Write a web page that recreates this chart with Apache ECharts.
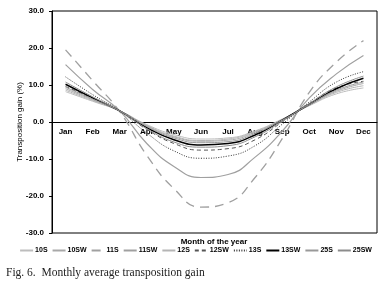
<!DOCTYPE html>
<html>
<head>
<meta charset="utf-8">
<script src="https://cdn.jsdelivr.net/npm/echarts@6/dist/echarts.min.js"></script>
<style>
  html, body { margin: 0; padding: 0; background: #fff; }
  #chart { width: 391px; height: 299px; }
</style>
</head>
<body>
<div id="chart"></div>
<script>
// months on the x axis
const months = ['Jan', 'Feb', 'Mar', 'Apr', 'May', 'Jun', 'Jul', 'Aug', 'Sep', 'Oct', 'Nov', 'Dec']

// monthly transposition gain (%)
const s10S   = [8.2, 5.6, 3.0, -0.7, -3.4, -4.6, -4.3, -2.4, 0.8, 4.4, 7.6, 9.2]
const s10SW  = [9.0, 6.0, 3.0, -1.0, -4.0, -5.2, -4.9, -2.8, 0.6, 4.6, 8.3, 10.4]
const s11S   = [19.5, 11.2, 2.8, -9.0, -18.0, -23.0, -21.8, -15.0, -4.5, 8.0, 16.2, 22.0]
const s11SW  = [15.5, 8.8, 3.0, -5.8, -12.0, -15.0, -14.2, -9.5, -2.5, 6.5, 13.0, 18.0]
const s12S   = [8.6, 5.8, 3.0, -0.9, -3.8, -5.0, -4.6, -2.6, 0.7, 4.5, 8.0, 9.8]
const s12SW  = [9.6, 6.4, 3.0, -2.0, -5.8, -7.6, -7.2, -4.8, 0.0, 5.0, 9.2, 11.0]
const s13S   = [12.2, 7.4, 3.0, -3.0, -7.8, -9.8, -9.2, -6.4, -0.6, 5.4, 10.8, 13.6]
const s13SW  = [10.2, 6.5, 3.0, -1.5, -4.8, -6.2, -5.8, -3.5, 0.5, 4.8, 9.0, 11.8]
const s25S   = [9.4, 6.2, 3.0, -1.2, -4.3, -5.6, -5.3, -3.1, 0.5, 4.7, 8.6, 10.8]
const s25SW  = [10.8, 6.8, 3.0, -1.8, -5.4, -6.8, -6.4, -4.0, 0.2, 5.0, 9.5, 12.4]

const font = 'Liberation Sans, Arial, sans-serif'

const mk = (name, data, color, type, width) => ({
  name: name,
  type: 'line',
  smooth: true,
  symbol: 'none',
  data: data,
  itemStyle: { color: color },
  lineStyle: { color: color, width: width || 1, type: type || 'solid' }
})

const chart = echarts.init(document.getElementById('chart'))

chart.setOption({
  animation: false,
  title: [
    {
      text: 'Month of the year',
      left: 214, top: 238, padding: 0, textAlign: 'center',
      textStyle: { fontFamily: font, fontSize: 8, fontWeight: 'bold', color: '#000' }
    },
    {
      text: 'Fig. 6.  Monthly average transposition gain',
      left: 6, top: 267, padding: 0,
      textStyle: { fontFamily: 'Liberation Serif, serif', fontSize: 11.5, fontWeight: 'normal', color: '#222' }
    }
  ],
  legend: {
    top: 247, left: 'center', padding: 0,
    itemWidth: 13, itemHeight: 6, itemGap: 4,
    itemStyle: { opacity: 0 },
    textStyle: { fontFamily: font, fontSize: 7, fontWeight: 'bold', color: '#000', padding: [0, 0, 0, -3] },
    data: ['10S', '10SW', '11S', '11SW', '12S', '12SW', '13S', '13SW', '25S', '25SW']
  },
  grid: {
    left: 52, right: 14, top: 11, bottom: 66,
    show: true, borderColor: '#000', borderWidth: 1
  },
  xAxis: {
    type: 'category',
    data: months,
    boundaryGap: true,
    // axis sits on the zero line
    offset: -111,
    axisLine: { onZero: false, lineStyle: { color: '#000', width: 1 } },
    axisTick: { show: false },
    axisLabel: { fontFamily: font, fontSize: 8, fontWeight: 'bold', color: '#000', margin: 6 }
  },
  yAxis: {
    type: 'value',
    min: -30, max: 30, interval: 10,
    name: 'Transposition gain (%)',
    nameLocation: 'middle', nameGap: 28, nameRotate: 90,
    nameMoveOverlap: false,
    nameTextStyle: { fontFamily: font, fontSize: 8, color: '#000' },
    axisLine: { show: true, lineStyle: { color: '#000', width: 1 } },
    axisTick: { show: true, length: 3, lineStyle: { color: '#000' } },
    splitLine: { show: false },
    axisLabel: {
      fontFamily: font, fontSize: 8, fontWeight: 'bold', color: '#000', margin: 8,
      formatter: v => v.toFixed(1)
    }
  },
  series: [
    mk('10S', s10S, '#bdbdbd'),
    mk('10SW', s10SW, '#a8a8a8'),
    mk('11S', s11S, '#a0a0a0', [9, 6], 1.3),
    mk('11SW', s11SW, '#a0a0a0', 'solid', 1.2),
    mk('12S', s12S, '#b5b5b5'),
    mk('12SW', s12SW, '#555555', [4, 3]),
    mk('13S', s13S, '#333333', [1, 1.5]),
    mk('13SW', s13SW, '#000000', 'solid', 1.5),
    mk('25S', s25S, '#999999'),
    mk('25SW', s25SW, '#8c8c8c')
  ]
})
</script>
</body>
</html>
